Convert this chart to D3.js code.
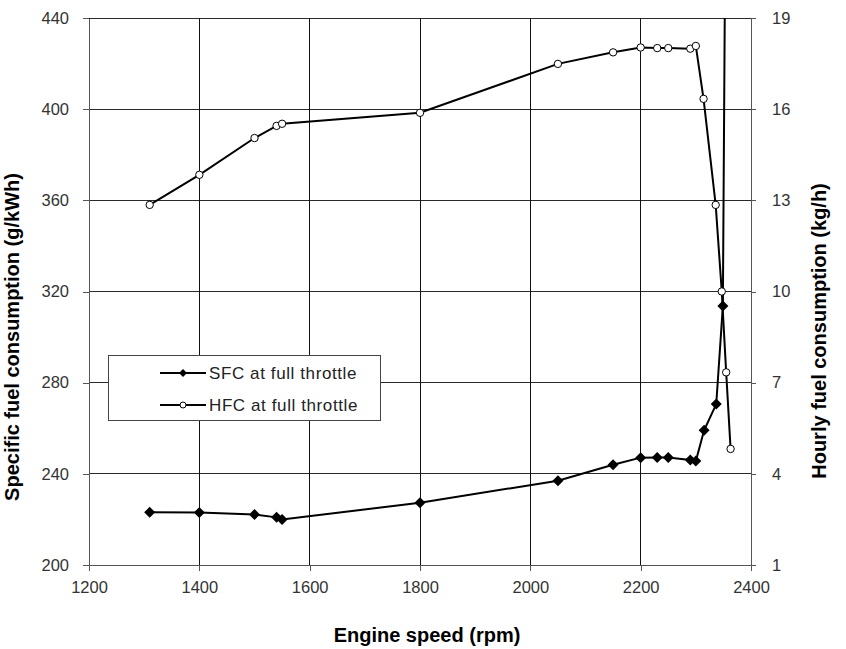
<!DOCTYPE html>
<html>
<head>
<meta charset="utf-8">
<script src="https://cdn.jsdelivr.net/npm/d3@7"></script>
<style>
  html, body { margin: 0; padding: 0; background: #fff; }
  svg { display: block; font-family: "Liberation Sans", Arial, sans-serif; }
</style>
</head>
<body>
<svg id="chart" width="846" height="649"></svg>
<script>
// ---- data ----
const rpmSFC = [1310, 1400, 1500, 1540, 1550, 1800, 2050, 2150, 2200, 2230, 2250, 2290, 2300, 2315, 2337, 2349, 2356];
const sfc    = [223.1, 223.0, 222.2, 220.9, 220.0, 227.3, 237.0, 244.0, 247.1, 247.2, 247.2, 246.1, 245.6, 259.1, 270.6, 313.6, 575];
const rpmHFC = [1310, 1400, 1500, 1540, 1550, 1800, 2050, 2150, 2200, 2230, 2250, 2290, 2300, 2314, 2336, 2347, 2355, 2363];
const hfc    = [12.85, 13.84, 15.05, 15.45, 15.52, 15.88, 17.49, 17.87, 18.03, 18.01, 18.01, 17.99, 18.08, 16.34, 12.85, 10.0, 7.34, 4.82];
const xTicks = [1200, 1400, 1600, 1800, 2000, 2200, 2400];
const yLeftTicks = [200, 240, 280, 320, 360, 400, 440];
const yRightTicks = [1, 4, 7, 10, 13, 16, 19];
const seriesNames = ["SFC at full throttle", "HFC at full throttle"];
const xTitle = "Engine speed (rpm)";
const yLeftTitle = "Specific fuel consumption (g/kWh)";
const yRightTitle = "Hourly fuel consumption (kg/h)";

// ---- layout ----
const L = 89, R = 751, T = 18, B = 565;
const svg = d3.select("#chart");

const x = d3.scaleLinear().domain([1200, 2400]).range([L, R]);
const yL = d3.scaleLinear().domain([200, 440]).range([B, T]);
const yR = d3.scaleLinear().domain([1, 19]).range([B, T]);

// gridlines
const grid = svg.append("g").attr("shape-rendering", "crispEdges");
grid.selectAll("line.h").data(yLeftTicks).join("line")
  .attr("x1", L).attr("x2", R).attr("y1", d => yL(d)).attr("y2", d => yL(d))
  .attr("stroke", "#2a2a2a").attr("stroke-width", 1);
grid.selectAll("line.v").data(xTicks).join("line")
  .attr("x1", d => x(d)).attr("x2", d => x(d)).attr("y1", T).attr("y2", B)
  .attr("stroke", "#111").attr("stroke-width", 1);

// axes
const tickFont = g => g.selectAll("text").attr("font-size", "16.5px").attr("fill", "#333")
  .attr("font-family", "'Liberation Sans', Arial, sans-serif");
const axisStyle = g => { g.select(".domain").attr("stroke", "#555"); g.selectAll(".tick line").attr("stroke", "#555"); };

svg.append("g").attr("transform", `translate(0,${B})`)
  .call(d3.axisBottom(x).tickValues(xTicks).tickFormat(d3.format("d")).tickSize(6).tickSizeOuter(0).tickPadding(10))
  .call(axisStyle).call(tickFont).attr("shape-rendering", "crispEdges");
svg.append("g").attr("transform", `translate(${L},0)`)
  .call(d3.axisLeft(yL).tickValues(yLeftTicks).tickFormat(d3.format("d")).tickSize(6).tickSizeOuter(0).tickPadding(14))
  .call(axisStyle).call(tickFont).attr("shape-rendering", "crispEdges");
svg.append("g").attr("transform", `translate(${R},0)`)
  .call(d3.axisRight(yR).tickValues(yRightTicks).tickFormat(d3.format("d")).tickSize(5).tickSizeOuter(0).tickPadding(16))
  .call(axisStyle).call(tickFont).attr("shape-rendering", "crispEdges");
svg.selectAll(".tick text").attr("font-size", "16.5px");

// clip
svg.append("clipPath").attr("id", "plot").append("rect")
  .attr("x", L).attr("y", T).attr("width", R - L).attr("height", B - T);

const sfcData = rpmSFC.map((r, i) => ({ x: r, y: sfc[i] }));
const hfcData = rpmHFC.map((r, i) => ({ x: r, y: hfc[i] }));

const plot = svg.append("g").attr("clip-path", "url(#plot)");

const lineL = d3.line().x(d => x(d.x)).y(d => yL(d.y));
const lineR = d3.line().x(d => x(d.x)).y(d => yR(d.y));

plot.append("path").datum(sfcData).attr("d", lineL)
  .attr("fill", "none").attr("stroke", "#000").attr("stroke-width", 2);
plot.append("path").datum(hfcData).attr("d", lineR)
  .attr("fill", "none").attr("stroke", "#000").attr("stroke-width", 2);

const diamond = (hw, hh) => `M0,${-hh}L${hw},0L0,${hh}L${-hw},0Z`;

plot.selectAll("path.sfc").data(sfcData).join("path").attr("class", "sfc")
  .attr("transform", d => `translate(${x(d.x)},${yL(d.y)})`)
  .attr("d", diamond(5.5, 5.5)).attr("fill", "#000");

plot.selectAll("circle.hfc").data(hfcData).join("circle").attr("class", "hfc")
  .attr("cx", d => x(d.x)).attr("cy", d => yR(d.y)).attr("r", 3.7)
  .attr("fill", "#fff").attr("stroke", "#000").attr("stroke-width", 1);

// legend
const lg = svg.append("g");
lg.append("rect").attr("x", 108.5).attr("y", 355.5).attr("width", 272).attr("height", 65)
  .attr("fill", "#fff").attr("stroke", "#444").attr("stroke-width", 1).attr("shape-rendering", "crispEdges");
const rows = [373, 405];
seriesNames.forEach((name, i) => {
  const yy = rows[i];
  lg.append("line").attr("x1", 160).attr("x2", 206).attr("y1", yy).attr("y2", yy)
    .attr("stroke", "#000").attr("stroke-width", 2);
  if (i === 0) {
    lg.append("path").attr("transform", `translate(183,${yy})`).attr("d", diamond(4, 4)).attr("fill", "#000");
  } else {
    lg.append("circle").attr("cx", 183).attr("cy", yy).attr("r", 3)
      .attr("fill", "#fff").attr("stroke", "#000").attr("stroke-width", 1);
  }
  lg.append("text").attr("x", 209).attr("y", yy).attr("dy", "0.36em")
    .attr("font-size", "17px").attr("letter-spacing", "0.6px").attr("fill", "#222").text(name);
});

// titles
svg.append("text").attr("x", 427).attr("y", 642).attr("text-anchor", "middle")
  .attr("font-size", "20px").attr("font-weight", "bold").attr("fill", "#000").text(xTitle);
svg.append("text").attr("transform", `translate(19,337) rotate(-90)`).attr("text-anchor", "middle")
  .attr("font-size", "20px").attr("font-weight", "bold").attr("fill", "#000").text(yLeftTitle);
svg.append("text").attr("transform", `translate(826,331) rotate(-90)`).attr("text-anchor", "middle")
  .attr("font-size", "20px").attr("font-weight", "bold").attr("fill", "#000").text(yRightTitle);
</script>
</body>
</html>
